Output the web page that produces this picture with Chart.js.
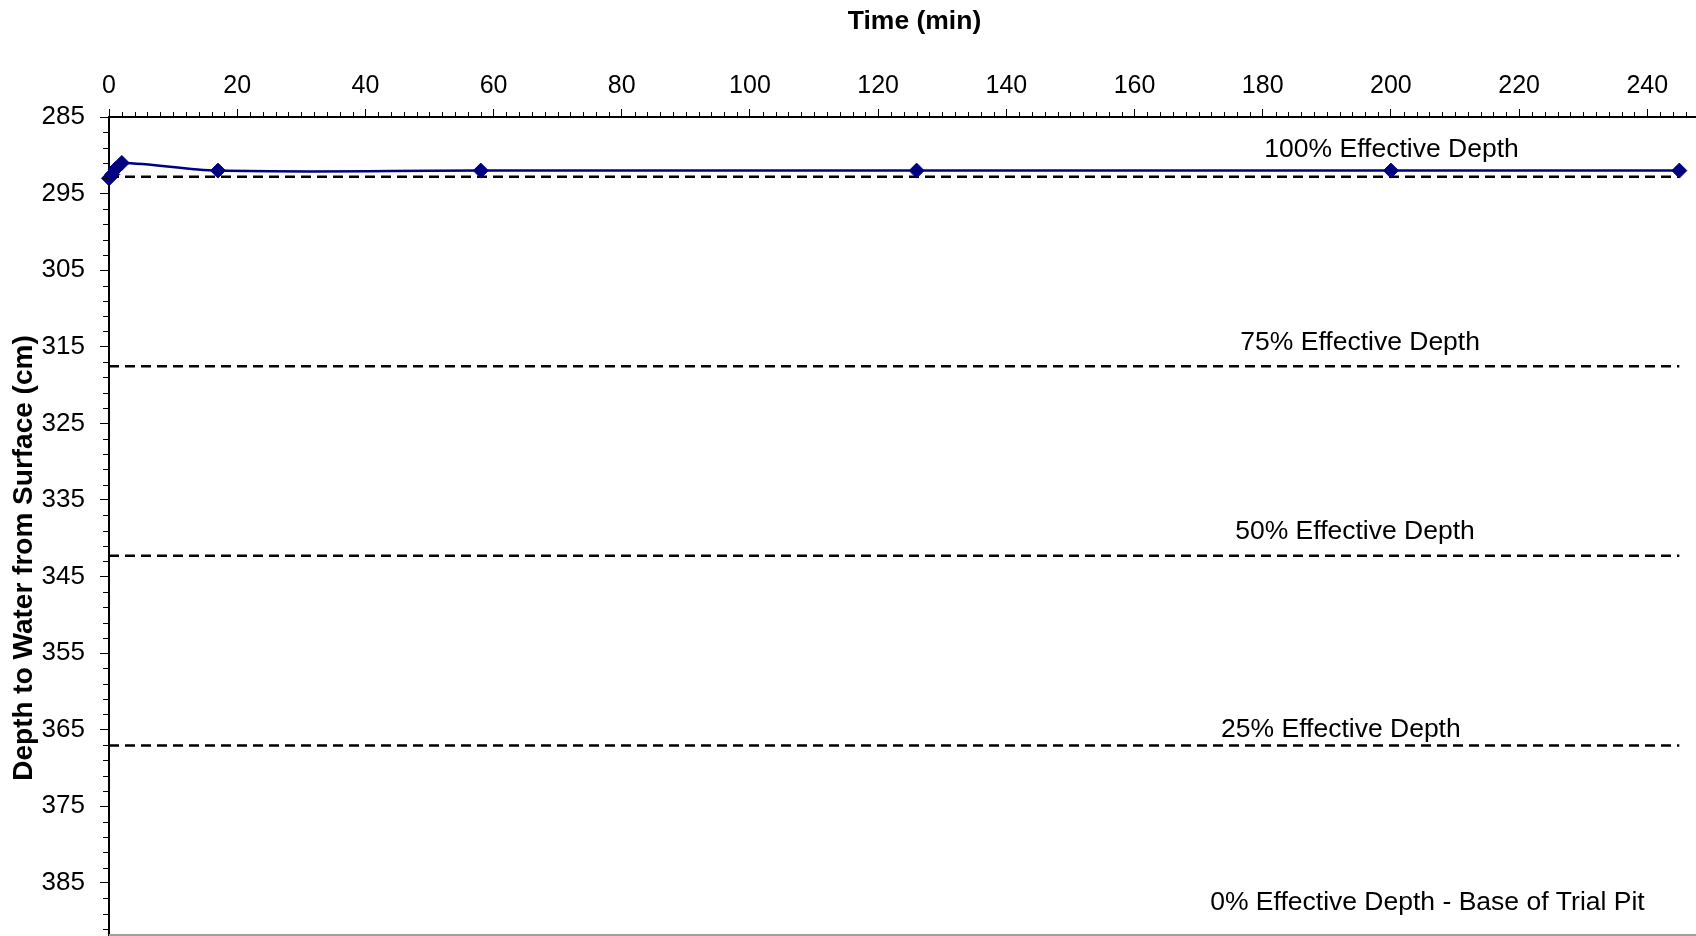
<!DOCTYPE html>
<html>
<head>
<meta charset="utf-8">
<title>Depth to Water from Surface</title>
<script src="https://cdn.jsdelivr.net/npm/chart.js@4.4.1/dist/chart.umd.min.js"></script>
<style>
  html, body { margin: 0; padding: 0; background: #fff; overflow: hidden; }
  canvas { display: block; }
</style>
</head>
<body>
<canvas id="chart" width="1696" height="936"></canvas>
<script>
// test readings
const times = [0, 0.5, 1, 2, 17, 58, 126, 200, 245];
const depths = [293.0, 292.5, 291.8, 291.0, 292.0, 292.0, 292.0, 292.0, 292.0];

// effective depth levels (cm), base of pit is the bottom of the axis
const levelNames = ['100% Effective Depth', '75% Effective Depth', '50% Effective Depth', '25% Effective Depth', '0% Effective Depth - Base of Trial Pit'];
const levelDepths = [292.8, 317.55, 342.3, 367.05, 391.8];
const levelStart = 0;
const levelEnd = 245;

const xTicks = [0, 20, 40, 60, 80, 100, 120, 140, 160, 180, 200, 220, 240];
const yTicks = [285, 295, 305, 315, 325, 335, 345, 355, 365, 375, 385];

const FONT = '"Liberation Sans", Arial, Helvetica, sans-serif';

// where each level label sits (time, depth of text centre)
const labelAt = [[200.1, 289.3], [195.2, 314.5], [194.4, 339.2], [192.2, 365.0], [205.7, 387.6]];

const datasets = [{
    label: 'Depth',
    data: times.map((t, i) => ({ x: t, y: depths[i] })),
    borderColor: '#000080',
    backgroundColor: '#000080',
    borderWidth: 2.5,
    pointStyle: 'rectRot',
    pointRadius: 7.5,
    pointBorderWidth: 1,
    pointBackgroundColor: '#000080',
    pointBorderColor: '#000080',
    tension: 0.35,
    clip: false
}];

// dashed level lines (the 0% one is the bottom of the plot)
levelDepths.slice(0, 4).forEach(d => {
    datasets.push({
        label: 'level ' + d,
        data: [{ x: levelStart, y: d }, { x: levelEnd, y: d }],
        borderColor: '#000',
        borderWidth: 2.5,
        borderDash: [10, 6],
        pointRadius: 0,
        tension: 0
    });
});

const extras = {
    id: 'extras',
    afterDraw(chart) {
        const { ctx, chartArea: a, scales: { x, y } } = chart;
        ctx.save();

        // minor ticks
        ctx.strokeStyle = '#000';
        ctx.lineWidth = 1;
        ctx.beginPath();
        for (let v = 2; v <= x.max; v += 2) {
            if (v % 20 === 0) continue;
            const px = Math.round(x.getPixelForValue(v)) + 0.5;
            ctx.moveTo(px, a.top - 5);
            ctx.lineTo(px, a.top);
        }
        for (let v = 287; v <= y.max; v += 2) {
            if (v % 10 === 5) continue;
            const py = Math.round(y.getPixelForValue(v)) + 0.5;
            ctx.moveTo(a.left - 6, py);
            ctx.lineTo(a.left, py);
        }
        ctx.stroke();

        // plot bottom edge
        ctx.strokeStyle = '#a0a0a0';
        ctx.lineWidth = 2;
        ctx.beginPath();
        ctx.moveTo(a.left, a.bottom);
        ctx.lineTo(a.right, a.bottom);
        ctx.stroke();

        ctx.fillStyle = '#000';
        ctx.textAlign = 'center';
        ctx.textBaseline = 'middle';

        // level labels
        ctx.font = '26.5px ' + FONT;
        levelNames.forEach((name, i) => {
            ctx.fillText(name, x.getPixelForValue(labelAt[i][0]), y.getPixelForValue(labelAt[i][1]));
        });

        // axis titles
        ctx.font = 'bold 26.5px ' + FONT;
        ctx.fillText('Time (min)', (a.left + a.right) / 2 + 12, 22);
        ctx.font = 'bold 28px ' + FONT;
        ctx.translate(24, (a.top + a.bottom) / 2 + 32);
        ctx.rotate(-Math.PI / 2);
        ctx.fillText('Depth to Water from Surface (cm)', 0, 0);
        ctx.restore();
    }
};

new Chart(document.getElementById('chart'), {
    type: 'line',
    data: { datasets },
    options: {
        responsive: false,
        animation: false,
        layout: { autoPadding: false, padding: { bottom: 1 } },
        plugins: {
            legend: { display: false },
            tooltip: { enabled: false }
        },
        scales: {
            x: {
                type: 'linear',
                position: 'top',
                min: 0,
                max: 247.6,
                afterBuildTicks: s => { s.ticks = xTicks.map(v => ({ value: v })); },
                afterFit: s => { s.height = 117; s.paddingLeft = 0; s.paddingRight = 0; },
                ticks: { color: '#000', font: { family: FONT, size: 25 }, padding: 8, maxRotation: 0, autoSkip: false },
                grid: { drawOnChartArea: false, tickLength: 8, color: '#000', lineWidth: 1 },
                border: { color: '#000', width: 2 }
            },
            y: {
                type: 'linear',
                reverse: true,
                min: 285,
                max: levelDepths[4],
                afterBuildTicks: s => { s.ticks = yTicks.map(v => ({ value: v })); },
                afterFit: s => { s.width = 109; s.paddingTop = 0; s.paddingBottom = 0; },
                ticks: { color: '#000', font: { family: FONT, size: 26 }, padding: 15 },
                grid: { drawOnChartArea: false, tickLength: 9, color: '#000', lineWidth: 1 },
                border: { color: '#000', width: 2 }
            }
        }
    },
    plugins: [extras]
});
</script>
</body>
</html>
